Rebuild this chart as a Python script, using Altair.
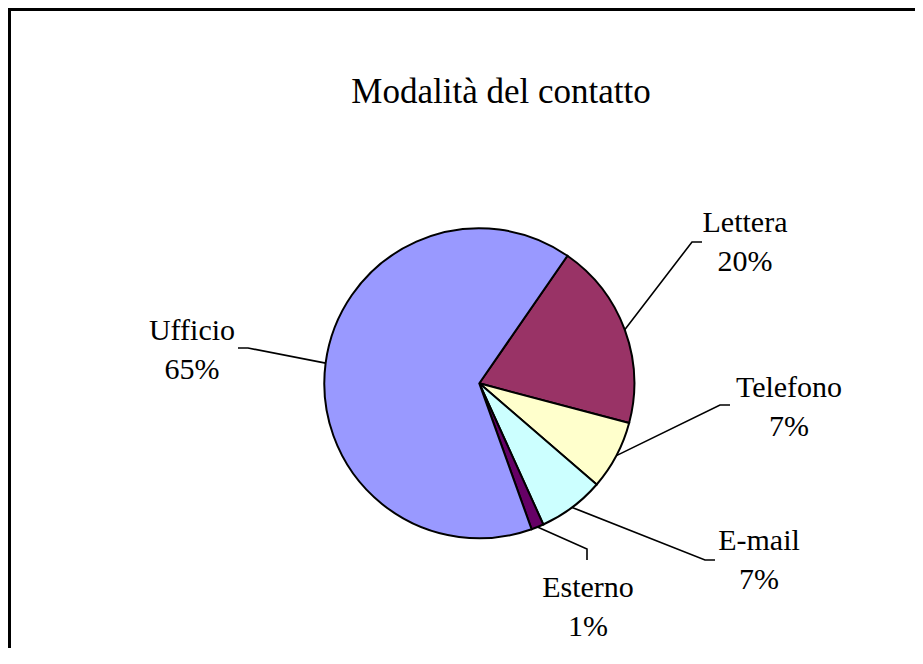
import math
import altair as alt
import pandas as pd

# ---------------- data ----------------
categories = ["Lettera", "Telefono", "E-mail", "Esterno", "Ufficio"]
values = [19.5, 7.2, 6.9, 1.3, 65.1]
colors = ["#993366", "#FFFFCC", "#CCFFFF", "#660066", "#9999FF"]
title_text = "Modalità del contatto"

# ---------------- layout (page pixels) ----------------
W, H = 907, 640
M = 8
CX, CY, R = 479.3, 383.3, 155
START_DEG = 34.65
FONT = "Liberation Serif"

label_pos = {
    "Lettera": (745, 232),
    "Telefono": (789, 397),
    "E-mail": (759, 550),
    "Esterno": (588, 597),
    "Ufficio": (192, 340),
}
leader_bends = {
    "Lettera": [(692, 242), (702, 242)],
    "Telefono": [(720, 405), (730, 405)],
    "E-mail": [(705, 560), (715, 560)],
    "Esterno": [(587, 549), (587, 560)],
    "Ufficio": [(248, 348), (238, 348)],
}

# ---------------- derived tables ----------------
total = sum(values)
pie_df = pd.DataFrame({
    "cat": categories,
    "value": values,
    "order": list(range(len(categories))),
})

lead_rows = []
text_rows = []
cum = 0.0
for c, v in zip(categories, values):
    mid = math.radians(START_DEG + (cum + v / 2) / total * 360)
    cum += v
    sx = CX + R * math.sin(mid)
    sy = CY - R * math.cos(mid)
    pts = [(sx, sy)] + leader_bends[c]
    for i, (px, py) in enumerate(pts):
        lead_rows.append({"cat": c, "i": i, "px": px, "py": py})
    pct = int(v / total * 100 + 0.5)
    lx, ly = label_pos[c]
    text_rows.append({"cat": c, "px": lx, "py": ly, "label": f"{c}\n{pct}%"})

lead_df = pd.DataFrame(lead_rows)
text_df = pd.DataFrame(text_rows)

xs = alt.Scale(domain=[M, M + W], range=[0, W], nice=False, zero=False)
ys = alt.Scale(domain=[M, M + H], reverse=True, nice=False, zero=False)

start = math.radians(START_DEG)
pie = alt.Chart(pie_df).mark_arc(
    outerRadius=R, stroke="black", strokeWidth=2
).encode(
    theta=alt.Theta("value:Q", stack=True,
                    scale=alt.Scale(range=[start, start + 2 * math.pi])),
    order=alt.Order("order:Q"),
    color=alt.Color("cat:N", scale=alt.Scale(domain=categories, range=colors),
                    legend=None),
    x=alt.value(CX - M),
    y=alt.value(CY - M),
)

leaders = alt.Chart(lead_df).mark_line(color="black", strokeWidth=1.6).encode(
    x=alt.X("px:Q", scale=xs, axis=None),
    y=alt.Y("py:Q", scale=ys, axis=None),
    detail="cat:N",
    order="i:Q",
)

labels = alt.Chart(text_df).mark_text(
    font=FONT, fontSize=30, align="center", baseline="alphabetic",
    lineBreak="\n", lineHeight=39, color="black"
).encode(
    x=alt.X("px:Q", scale=xs, axis=None),
    y=alt.Y("py:Q", scale=ys, axis=None),
    text="label:N",
)

title = alt.Chart(pd.DataFrame({"t": [title_text]})).mark_text(
    font=FONT, fontSize=35, align="center", baseline="alphabetic", color="black"
).encode(
    x=alt.value(501 - M),
    y=alt.value(103 - M),
    text="t:N",
)

frame_left = alt.Chart(pd.DataFrame({"a": [0]})).mark_rule(
    color="black", strokeWidth=3
).encode(x=alt.value(1.5), y=alt.value(1.5), y2=alt.value(H))
frame_top = alt.Chart(pd.DataFrame({"a": [0]})).mark_rule(
    color="black", strokeWidth=3
).encode(x=alt.value(0), x2=alt.value(W), y=alt.value(1.5))

chart = alt.layer(pie, leaders, labels, title, frame_left, frame_top).properties(
    width=W, height=H, padding=0, autosize="none", background="white"
).configure_view(stroke=None)

chart.save("out.html", embed_options={"renderer": "svg", "actions": False})
